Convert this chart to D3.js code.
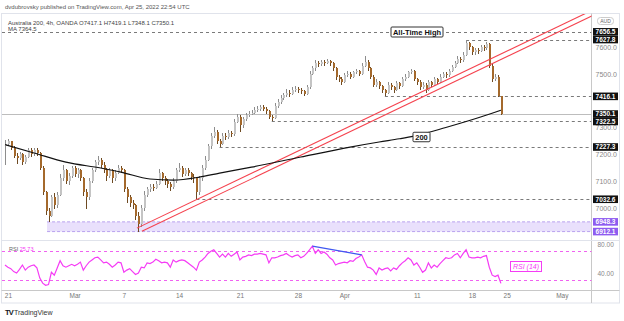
<!DOCTYPE html>
<html>
<head>
<meta charset="utf-8">
<script src="https://cdn.jsdelivr.net/npm/d3@7"></script>
<style>
body { margin: 0; background: #fff; }
svg { display: block; font-family: "Liberation Sans", Arial, sans-serif; }
</style>
</head>
<body>
<svg id="chart" width="624" height="321"></svg>
<script>
// 4h candles, Feb 18 -> Apr 22 2022 (open of bar i = close of bar i-1)
const firstOpen = 7230;
const closes = [
	7240,7248,7225,7195,7185,7200,7172,7190,7215,7200,
	7215,7205,7150,7060,6990,6972,7040,7010,7050,7110,
	7140,7100,7120,7150,7125,7140,7110,7060,7040,7100,
	7140,7170,7180,7160,7140,7120,7140,7110,7130,7150,
	7140,7070,7040,7020,7010,6970,6940,7000,7050,7070,
	7080,7075,7090,7130,7110,7100,7090,7080,7100,7140,
	7150,7125,7140,7130,7115,7110,7060,7110,7150,7180,
	7230,7270,7285,7250,7240,7270,7265,7280,7275,7320,
	7340,7310,7330,7345,7350,7355,7365,7370,7375,7370,
	7360,7340,7335,7380,7395,7410,7420,7430,7425,7440,
	7445,7440,7435,7425,7450,7500,7520,7540,7535,7545,
	7540,7548,7540,7520,7490,7480,7470,7495,7500,7490,
	7505,7510,7500,7530,7545,7520,7490,7460,7470,7455,
	7440,7430,7460,7450,7440,7465,7455,7480,7490,7505,
	7510,7480,7470,7450,7460,7440,7470,7460,7480,7470,
	7490,7500,7495,7510,7525,7540,7555,7550,7570,7615,
	7600,7580,7590,7585,7600,7595,7610,7530,7480,7490,
	7417.1,7350.1
];
const highs = [
	7252,7256,7250,7230,7205,7210,7205,7198,7225,7222,
	7222,7225,7210,7155,7065,7000,7050,7055,7060,7125,
	7160,7145,7130,7158,7155,7150,7145,7115,7070,7110,
	7150,7180,7195,7185,7170,7148,7150,7145,7140,7160,
	7158,7145,7080,7050,7030,7015,6985,7010,7065,7080,
	7090,7090,7100,7145,7135,7120,7108,7098,7110,7150,
	7168,7155,7150,7148,7135,7125,7115,7120,7160,7192,
	7240,7280,7302,7290,7258,7280,7278,7290,7288,7330,
	7352,7345,7340,7355,7360,7365,7375,7380,7385,7382,
	7375,7365,7348,7390,7405,7420,7430,7442,7438,7450,
	7455,7452,7448,7440,7460,7510,7530,7550,7548,7552,
	7550,7556,7552,7545,7525,7495,7488,7502,7510,7505,
	7512,7518,7515,7540,7566,7550,7525,7495,7480,7475,
	7460,7445,7468,7466,7455,7472,7470,7488,7498,7512,
	7518,7514,7486,7476,7468,7465,7478,7475,7488,7485,
	7498,7508,7506,7518,7532,7548,7565,7562,7580,7627.8,
	7620,7605,7598,7596,7608,7606,7620,7615,7535,7500,
	7495,7419.1
];
const lows = [
	7160,7232,7215,7185,7165,7178,7160,7165,7185,7190,
	7195,7195,7140,7050,6975,6948.3,6965,6995,7000,7045,
	7100,7090,7085,7110,7115,7110,7100,7045,6995,7030,
	7095,7135,7160,7150,7130,7100,7110,7095,7100,7125,
	7130,7060,7020,7005,6995,6955,6912.1,6930,6990,7040,
	7060,7065,7070,7085,7100,7085,7075,7065,7072,7095,
	7135,7115,7118,7120,7105,7095,7032.6,7050,7100,7140,
	7175,7220,7260,7240,7227.3,7235,7255,7258,7265,7270,
	7315,7285,7300,7325,7338,7345,7350,7358,7362,7360,
	7350,7330,7322.5,7330,7372,7388,7402,7412,7415,7420,
	7432,7430,7425,7418,7420,7445,7495,7512,7525,7528,
	7530,7535,7530,7510,7478,7468,7460,7465,7488,7480,
	7485,7498,7492,7495,7525,7512,7482,7450,7452,7445,
	7428,7416.1,7425,7440,7430,7435,7445,7450,7472,7485,
	7498,7472,7460,7440,7442,7428,7435,7450,7455,7462,
	7465,7485,7486,7490,7505,7520,7535,7540,7545,7565,
	7590,7570,7572,7575,7580,7585,7590,7520,7470,7472,
	7412,7348.1
];
const rsi = [
	51,48,46,42,40,45,51,44,48,50,
	51,47,33,26,23,24,41,37,47,57,
	50,48,50,52,50,52,55,44,50,55,
	58,61,62,58,54,55,52,48,51,55,
	54,41,44,46,42,38,40,48,47,54,
	53,55,59,57,54,55,54,48,58,55,
	57,58,57,54,51,48,44,55,58,62,
	67,70,72,67,62,66,62,67,63,66,
	69,58,62,63,65,64,66,66,67,66,
	65,54,61,61,62,64,65,67,64,62,
	64,65,61,63,67,72,77,67,72,67,
	69,66,61,58,51,53,54,55,54,57,
	56,60,62,65,56,48,47,44,38,47,
	44,46,47,43,47,45,50,54,57,61,
	58,51,54,48,41,44,54,47,51,48,
	53,57,61,60,61,65,67,61,67,72,
	62,61,61,62,61,63,64,48,37,35,
	37,25.73
];
// 200 MA read at a few bars [bar, value]
const maPoints = [
	[0,7236],[10,7205],[21,7171],[33,7149],[40,7134],[50,7108],[58,7104],
	[67,7115],[74,7130],[85,7152],[102,7190],[119,7227],[129,7246],
	[136,7258],[141,7268],[152,7300],[164,7339],[171,7364.5]
];

const tickIdx = [1, 24, 41, 60, 81, 101, 117, 142, 161, 173, 192];
const tickLabels = ["21", "Mar", "7", "14", "21", "28", "Apr", "11", "18", "25", "May"];
// 7400.0 sits fully under the 7416.1 tag in the original, so it is left out
const priceTicks = [7000, 7100, 7200, 7300, 7500, 7600];
const rsiTicks = [40, 80];
const rsiBands = [30, 70];

// horizontal levels [value, first bar] (null = whole width)
const levels = [[7656.5, null], [7627.8, 159], [7416.1, 131], [7322.5, 92], [7227.3, 74], [7032.6, 66]];
const lastPrice = 7350.1;
const zone = [6912.1, 6948.3];
const zoneFrom = 14.5;
const channel = [
	[[45.5, 6925], [205, 7750]],
	[[47.2, 6913], [205, 7729]]
];
const divergence = [[106, 77], [123, 65]];

const svg = d3.select("#chart");
const plotRight = 591.5;

const x = d3.scaleLinear().domain([0, 171]).range([5, 500.9]);
const y = d3.scaleLinear().domain([7000, 7600]).range([208, 47]);
const yr = d3.scaleLinear().domain([40, 80]).range([273, 244]);

// header
svg.append("text").attr("x", 5).attr("y", 9).attr("font-size", 6).attr("fill", "#555")
	.text("dvdubrovsky published on TradingView.com, Apr 25, 2022 22:54 UTC");

// frame
svg.append("rect").attr("x", 1.5).attr("y", 13.5).attr("width", 618).attr("height", 289.5)
	.attr("fill", "none").attr("stroke", "#e0e3eb");
svg.append("line").attr("x1", plotRight).attr("x2", plotRight).attr("y1", 13.5).attr("y2", 303)
	.attr("stroke", "#c8c8c8");
svg.append("line").attr("x1", 1.5).attr("x2", 619.5).attr("y1", 290.5).attr("y2", 290.5)
	.attr("stroke", "#c8c8c8");
svg.append("line").attr("x1", 1.5).attr("x2", 619.5).attr("y1", 240.5).attr("y2", 240.5)
	.attr("stroke", "#e0e3eb");

svg.append("defs").append("clipPath").attr("id", "plot")
	.append("rect").attr("x", 2).attr("y", 14).attr("width", plotRight - 2).attr("height", 226);

const plot = svg.append("g").attr("clip-path", "url(#plot)");

// purple zone
plot.append("rect")
	.attr("x", x(zoneFrom)).attr("width", plotRight - x(zoneFrom))
	.attr("y", y(zone[1])).attr("height", y(zone[0]) - y(zone[1]))
	.attr("fill", "#e9e0fc");
zone.forEach(function(v) {
	plot.append("line").attr("x1", x(zoneFrom)).attr("x2", plotRight)
		.attr("y1", y(v)).attr("y2", y(v))
		.attr("stroke", "#b9a2ee").attr("stroke-dasharray", "3,2");
});

// levels
levels.forEach(function(l) {
	const x0 = l[1] === null ? 2 : x(l[1]);
	plot.append("line").attr("x1", x0).attr("x2", plotRight)
		.attr("y1", Math.round(y(l[0])) + 0.5).attr("y2", Math.round(y(l[0])) + 0.5)
		.attr("stroke", "#7a7a7a").attr("stroke-dasharray", "3,3");
});
plot.append("line").attr("x1", 2).attr("x2", plotRight)
	.attr("y1", Math.round(y(lastPrice)) + 0.5).attr("y2", Math.round(y(lastPrice)) + 0.5)
	.attr("stroke", "#bdbdbd");

// candles
const candles = closes.map(function(c, i) {
	return { i: i, o: i === 0 ? firstOpen : closes[i - 1], h: highs[i], l: lows[i], c: c };
});
const cg = plot.append("g").attr("shape-rendering", "crispEdges");
cg.selectAll("line.wick").data(candles).enter().append("line")
	.attr("x1", d => Math.round(x(d.i)) + 0.5).attr("x2", d => Math.round(x(d.i)) + 0.5)
	.attr("y1", d => y(d.h)).attr("y2", d => y(d.l))
	.attr("stroke", d => d.c >= d.o ? "#8d8d8d" : "#6e4a22");
cg.selectAll("rect.body").data(candles).enter().append("rect")
	.attr("x", d => Math.round(x(d.i)) - 0.5).attr("width", 2)
	.attr("y", d => y(Math.max(d.o, d.c)))
	.attr("height", d => Math.max(1, Math.abs(y(d.o) - y(d.c))))
	.attr("fill", d => d.c >= d.o ? "#c4c4c4" : "#a4692c");

// channel
channel.forEach(function(seg) {
	plot.append("line")
		.attr("x1", x(seg[0][0])).attr("y1", y(seg[0][1]))
		.attr("x2", x(seg[1][0])).attr("y2", y(seg[1][1]))
		.attr("stroke", "#f5434f").attr("stroke-width", 1.1);
});

// moving average
plot.append("path").datum(maPoints)
	.attr("d", d3.line().x(d => x(d[0])).y(d => y(d[1])).curve(d3.curveMonotoneX))
	.attr("fill", "none").attr("stroke", "#111").attr("stroke-width", 1.2);

// boxes on the chart
function tagBox(cx, cy, w, h, txt, size) {
	svg.append("rect").attr("x", cx - w / 2).attr("y", cy - h / 2).attr("width", w).attr("height", h)
		.attr("fill", "#fff").attr("stroke", "#333").attr("rx", 1);
	svg.append("text").attr("x", cx).attr("y", cy).attr("dy", "0.36em").attr("text-anchor", "middle")
		.attr("font-size", size).attr("font-weight", "bold").attr("fill", "#111").text(txt);
}
tagBox(417, 32, 52, 10, "All-Time High", 7.5);
tagBox(421.5, 137, 17, 9.5, "200", 7.5);

// legend
svg.append("text").attr("x", 8).attr("y", 25).attr("font-size", 6).attr("fill", "#444")
	.text("Australia 200, 4h, OANDA  O7417.1  H7419.1  L7348.1  C7350.1");
svg.append("text").attr("x", 8).attr("y", 31).attr("font-size", 6).attr("fill", "#444")
	.text("MA  7364.5");

// AUD
svg.append("rect").attr("x", 597.5).attr("y", 17.5).attr("width", 16).attr("height", 7)
	.attr("fill", "#fff").attr("stroke", "#ccc").attr("rx", 3);
svg.append("text").attr("x", 605.5).attr("y", 21).attr("dy", "0.36em").attr("text-anchor", "middle")
	.attr("font-size", 5).attr("fill", "#666").text("AUD");

// price axis
const pAxis = svg.append("g").attr("transform", "translate(" + plotRight + ",0)")
	.call(d3.axisRight(y).tickValues(priceTicks).tickFormat(d3.format(".1f")).tickSize(0).tickPadding(4));
pAxis.select(".domain").remove();
pAxis.selectAll("text").attr("font-size", 7).attr("fill", "#888").attr("font-family", "Liberation Sans, Arial, sans-serif");

// price tags
function priceTag(v, bg) {
	svg.append("rect").attr("x", 593).attr("y", y(v) - 3.8).attr("width", 25).attr("height", 7.6).attr("fill", bg);
	svg.append("text").attr("x", 605.5).attr("y", y(v)).attr("dy", "0.36em").attr("text-anchor", "middle")
		.attr("font-size", 6.5).attr("font-weight", "bold").attr("fill", "#fff").text(d3.format(".1f")(v));
}
levels.forEach(l => priceTag(l[0], "#111"));
priceTag(lastPrice, "#111");
zone.forEach(v => priceTag(v, "#8e5cf0"));

// RSI pane
rsiBands.forEach(function(v) {
	svg.append("line").attr("x1", 2).attr("x2", plotRight)
		.attr("y1", Math.round(yr(v)) + 0.5).attr("y2", Math.round(yr(v)) + 0.5)
		.attr("stroke", "#f062f0").attr("stroke-dasharray", "3,3");
});
svg.append("path").datum(rsi)
	.attr("d", d3.line().x((d, i) => x(i)).y(d => yr(d)))
	.attr("fill", "none").attr("stroke", "#f53cf5").attr("stroke-width", 1.2);
svg.append("line")
	.attr("x1", x(divergence[0][0])).attr("y1", yr(divergence[0][1]))
	.attr("x2", x(divergence[1][0])).attr("y2", yr(divergence[1][1]))
	.attr("stroke", "#4058f0").attr("stroke-width", 1.2);

const rAxis = svg.append("g").attr("transform", "translate(" + plotRight + ",0)")
	.call(d3.axisRight(yr).tickValues(rsiTicks).tickFormat(d3.format(".2f")).tickSize(0).tickPadding(6));
rAxis.select(".domain").remove();
rAxis.selectAll("text").attr("font-size", 6.5).attr("fill", "#888").attr("font-family", "Liberation Sans, Arial, sans-serif");

const rsiLeg = svg.append("text").attr("x", 9).attr("y", 251).attr("font-size", 5.5);
rsiLeg.append("tspan").attr("fill", "#666").text("RSI  ");
rsiLeg.append("tspan").attr("fill", "#f53cf5").text("25.73");

svg.append("rect").attr("x", 510.5).attr("y", 261.5).attr("width", 31).attr("height", 10)
	.attr("fill", "#fff").attr("stroke", "#f53cf5");
svg.append("text").attr("x", 526).attr("y", 266.5).attr("dy", "0.36em").attr("text-anchor", "middle")
	.attr("font-size", 7).attr("font-style", "italic").attr("fill", "#f53cf5").text("RSI (14)");

// time axis
const tAxis = svg.append("g").attr("transform", "translate(0,290.5)")
	.call(d3.axisBottom(x).tickValues(tickIdx).tickFormat((d, i) => tickLabels[i]).tickSize(0).tickPadding(3));
tAxis.select(".domain").remove();
tAxis.selectAll("text").attr("font-size", 6.5).attr("fill", "#777").attr("font-family", "Liberation Sans, Arial, sans-serif");

// TradingView mark
svg.append("text").attr("x", 5).attr("y", 315).attr("font-size", 7.5).attr("font-weight", 900)
	.attr("fill", "#131722").attr("letter-spacing", -0.8).text("TV");
svg.append("text").attr("x", 14).attr("y", 315).attr("font-size", 7).attr("fill", "#333").text("TradingView");
</script>
</body>
</html>
